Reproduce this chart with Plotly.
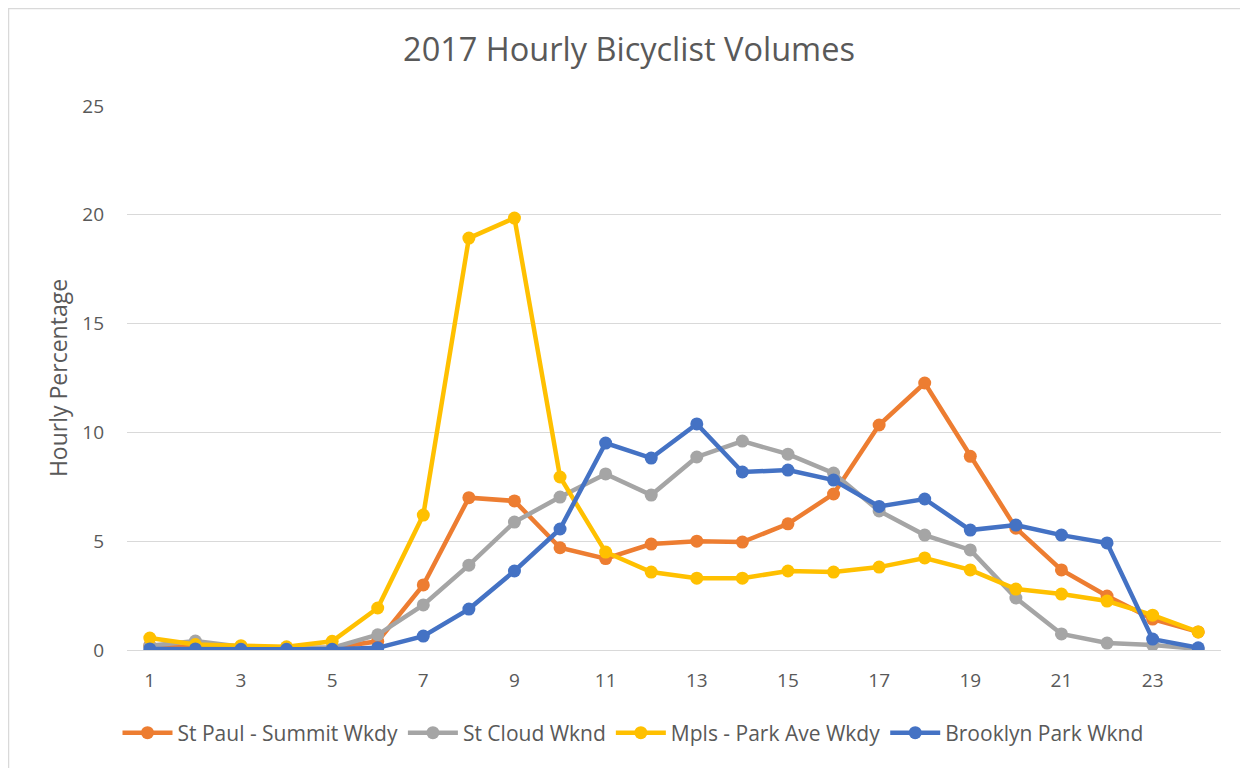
import plotly.graph_objects as go

hours = list(range(1, 25))
x_tick_labels = [str(h) for h in range(1, 24, 2)]

st_paul_summit_wkdy = [0.2, 0.1, 0.05, 0.05, 0.1, 0.4, 2.99, 7.0, 6.85, 4.7, 4.2, 4.87,
                       5.0, 4.96, 5.8, 7.17, 10.34, 12.27, 8.9, 5.6, 3.68, 2.48, 1.42, 0.83]
st_cloud_wknd = [0.2, 0.41, 0.15, 0.1, 0.1, 0.7, 2.07, 3.9, 5.88, 7.03, 8.09, 7.12,
                 8.87, 9.6, 9.0, 8.13, 6.39, 5.28, 4.6, 2.39, 0.74, 0.32, 0.23, 0.05]
mpls_park_ave_wkdy = [0.55, 0.25, 0.2, 0.15, 0.4, 1.93, 6.2, 18.93, 19.85, 7.95, 4.5, 3.58,
                      3.3, 3.3, 3.63, 3.58, 3.81, 4.23, 3.68, 2.8, 2.57, 2.25, 1.6, 0.83]
brooklyn_park_wknd = [0.05, 0.05, 0.03, 0.03, 0.03, 0.1, 0.64, 1.88, 3.63, 5.56, 9.51, 8.82,
                      10.39, 8.18, 8.27, 7.81, 6.6, 6.94, 5.51, 5.74, 5.28, 4.92, 0.5, 0.1]

series = [
    ("St Paul - Summit Wkdy", st_paul_summit_wkdy, "#ED7D31"),
    ("St Cloud Wknd", st_cloud_wknd, "#A5A5A5"),
    ("Mpls - Park Ave Wkdy", mpls_park_ave_wkdy, "#FFC000"),
    ("Brooklyn Park Wknd", brooklyn_park_wknd, "#4472C4"),
]

FONT = "Open Sans"
TXT = "#595959"

# page is offset by the default 8px body margin
L, R, T, B = 119, 1213, 98, 642
W, H = R - L, B - T

fig = go.Figure()
for name, vals, color in series:
    fig.add_trace(go.Scatter(
        x=hours, y=vals, name=name, mode="lines+markers",
        line=dict(color=color, width=4.5),
        marker=dict(color=color, size=13),
    ))

fig.update_layout(
    width=1248, height=768,
    paper_bgcolor="white", plot_bgcolor="white",
    margin=dict(l=L, r=1248 - R, t=T, b=768 - B),
    font=dict(family=FONT, color=TXT),
    title=dict(text="2017 Hourly Bicyclist Volumes", x=621 / 1248, xanchor="center",
               y=1 - 42 / 768, yanchor="middle",
               font=dict(size=32.5, family=FONT, color=TXT)),
    xaxis=dict(range=[0.5, 24.5], tickmode="array",
               tickvals=list(range(1, 24, 2)), ticktext=x_tick_labels,
               showgrid=False, showline=True, linecolor="#D9D9D9", linewidth=1,
               ticks="", zeroline=False, tickfont=dict(size=19, color=TXT),
               ticklabelstandoff=13),
    yaxis=dict(range=[0, 25], dtick=5, showgrid=True, gridcolor="#D9D9D9",
               gridwidth=1, zeroline=False, showline=False, ticks="",
               tickfont=dict(size=19, color=TXT), ticklabelstandoff=22,
               title=dict(text="Hourly Percentage", font=dict(size=23, color=TXT),
                          standoff=8)),
    legend=dict(orientation="h", x=(625 - L) / W, xanchor="center",
                y=(B - 725) / H, yanchor="middle",
                font=dict(size=21, color=TXT), itemwidth=50, tracegroupgap=0),
    shapes=[dict(type="rect", xref="paper", yref="paper",
                 x0=(0.5 - L) / W, x1=(1260 - L) / W,
                 y0=(B - 780) / H, y1=(B - 0.5) / H,
                 line=dict(color="#D9D9D9", width=1.5), fillcolor="rgba(0,0,0,0)",
                 layer="below")],
)

fig.write_html("out.html")
